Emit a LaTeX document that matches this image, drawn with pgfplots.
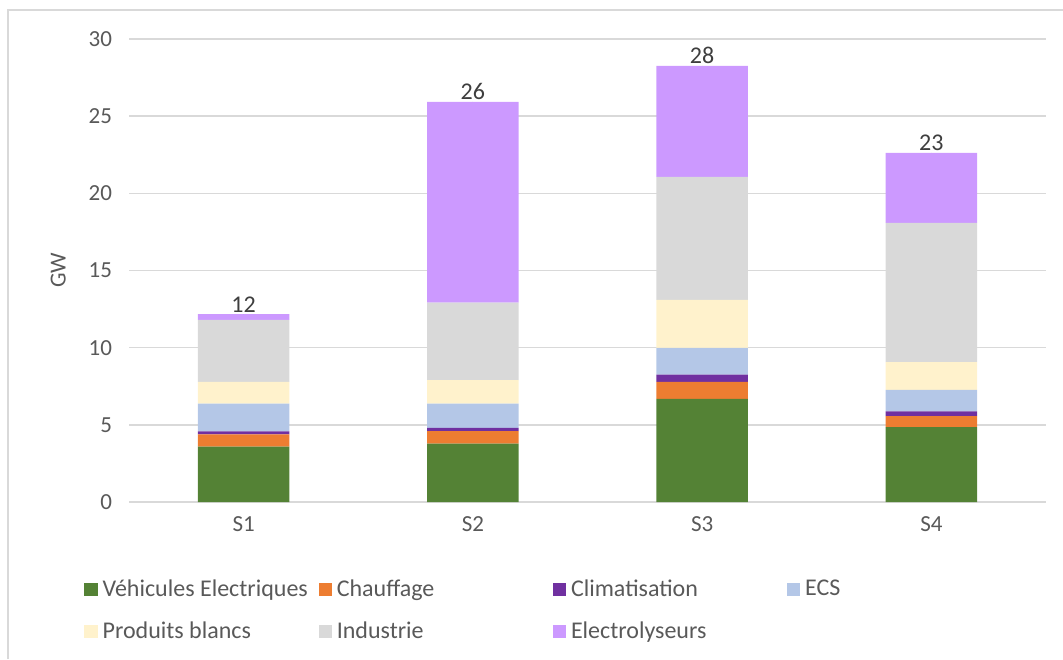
\documentclass[border=0pt]{standalone}
\usepackage{pgfplots}
\pgfplotsset{compat=1.18}
\usepackage{pgfplotstable}
\usepackage{fontspec}
\setmainfont{Carlito}

\definecolor{txt}{HTML}{595959}
\definecolor{gridc}{HTML}{D9D9D9}
\definecolor{cVE}{HTML}{548235}
\definecolor{cCH}{HTML}{ED7D31}
\definecolor{cCL}{HTML}{7030A0}
\definecolor{cECS}{HTML}{B4C7E7}
\definecolor{cPB}{HTML}{FFF2CC}
\definecolor{cIND}{HTML}{D9D9D9}
\definecolor{cEL}{HTML}{CC99FF}

% Puissance appelée par usage et par scénario (GW)
\pgfplotstableread{
x ve   ch   cl   ecs  pb   ind  el
0 3.59 0.80 0.19 1.79 1.41 4.02 0.38
1 3.78 0.82 0.20 1.57 1.52 5.03 13.00
2 6.68 1.10 0.47 1.73 3.11 7.97 7.20
3 4.86 0.71 0.31 1.38 1.81 9.01 4.54
}\data

\newcommand{\legitem}[1]{\makebox[105.5pt][l]{#1}}

\pgfplotsset{frame/.style={
  at={(64.5pt,78.5pt)}, anchor=south west,
  width=458.5pt, height=231.5pt, scale only axis,
  xmin=-0.5, xmax=3.5, ymin=0, ymax=30,
  /pgf/number format/assume math mode=true}}

\begin{document}
\begin{tikzpicture}[x=0.5pt,y=0.5pt]
\useasboundingbox (0,0) rectangle (1063,659);
% cadre du graphique
\draw[gridc, line width=0.75pt] (8,0) -- (8,649) -- (1063,649);
\begin{axis}[
  frame,
  ybar stacked, bar width=45.8pt,
  xtick={0,1,2,3}, xticklabels={S1,S2,S3,S4},
  ytick={0,5,...,30},
  ymajorgrids, grid style={gridc, line width=0.75pt},
  axis line style={draw=none}, tick style={draw=none},
  ticklabel style={font=\fontsize{11.5}{13}\selectfont, text=txt},
  yticklabel style={xshift=-5pt},
  xticklabel style={yshift=-4pt},
  ylabel={GW}, ylabel style={font=\fontsize{11.5}{13}\selectfont, text=txt, yshift=4.5pt},
  legend columns=4,
  legend style={at={(-0.0556,-0.149)}, anchor=north west, draw=none, fill=none,
    font=\fontsize{12}{14}\selectfont, text=txt, row sep=7.5pt,
    /tikz/every even column/.append style={column sep=0pt},
    nodes={inner xsep=2.5pt}},
  legend cell align=left,
  every axis plot/.append style={draw=none,
    legend image code/.code={\fill[##1] (0pt,-3.3pt) rectangle (6.6pt,3.3pt);}},
]
\addplot[fill=cVE]  table[x=x,y=ve]  {\data};
\addplot[fill=cCH]  table[x=x,y=ch]  {\data};
\addplot[fill=cCL]  table[x=x,y=cl]  {\data};
\addplot[fill=cECS] table[x=x,y=ecs] {\data};
\addplot[fill=cPB]  table[x=x,y=pb]  {\data};
\addplot[fill=cIND] table[x=x,y=ind] {\data};
\addplot[fill=cEL]  table[x=x,y=el]  {\data};
\legend{\legitem{Véhicules Electriques},\legitem{Chauffage},\legitem{Climatisation},\legitem{ECS},
        \legitem{Produits blancs},\legitem{Industrie},\legitem{Electrolyseurs}}
\end{axis}
% totaux au sommet de chaque barre
\begin{axis}[frame, hide axis]
\addplot[only marks, mark=*, mark size=0pt, draw=none,
  point meta=y,
  nodes near coords={\pgfmathprintnumber[fixed,precision=0]{\pgfplotspointmeta}},
  every node near coord/.append style={anchor=base, inner sep=0pt, yshift=1pt,
    font=\fontsize{12}{14}\selectfont, text=txt!70!black}]
  table[x=x, y expr={\thisrow{ve}+\thisrow{ch}+\thisrow{cl}+\thisrow{ecs}+\thisrow{pb}+\thisrow{ind}+\thisrow{el}}] {\data};
\end{axis}
\end{tikzpicture}
\end{document}
